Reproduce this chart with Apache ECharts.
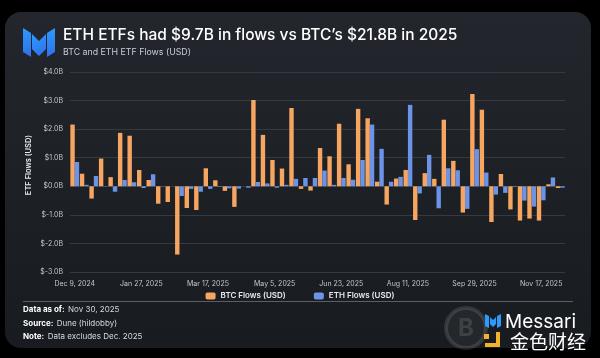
<!DOCTYPE html>
<html>
<head>
<meta charset="utf-8">
<script src="https://cdn.jsdelivr.net/npm/echarts@6/dist/echarts.min.js"></script>
<style>
  html, body { margin: 0; padding: 0; background: #000; }
  #wrap { position: relative; width: 600px; height: 358px; overflow: hidden; background: #000; }
  #card { position: absolute; left: 5px; top: 12px; width: 586px; height: 336px; border-radius: 16px;
          background: linear-gradient(180deg, #23272d 0%, #1c1f24 60%, #181b1f 100%); }
  #chart { position: absolute; left: 0; top: 0; width: 600px; height: 358px; }
</style>
</head>
<body>
<div id="wrap">
  <div id="card"></div>
  <div id="chart"></div>
</div>
<script>
// Weekly categories
const categories = [
  'Dec 9, 2024','Dec 16, 2024','Dec 23, 2024','Dec 30, 2024',
  'Jan 6, 2025','Jan 13, 2025','Jan 20, 2025','Jan 27, 2025',
  'Feb 3, 2025','Feb 10, 2025','Feb 17, 2025','Feb 24, 2025',
  'Mar 3, 2025','Mar 10, 2025','Mar 17, 2025','Mar 24, 2025','Mar 31, 2025',
  'Apr 7, 2025','Apr 14, 2025','Apr 21, 2025','Apr 28, 2025',
  'May 5, 2025','May 12, 2025','May 19, 2025','May 26, 2025',
  'Jun 2, 2025','Jun 9, 2025','Jun 16, 2025','Jun 23, 2025','Jun 30, 2025',
  'Jul 7, 2025','Jul 14, 2025','Jul 21, 2025','Jul 28, 2025',
  'Aug 4, 2025','Aug 11, 2025','Aug 18, 2025','Aug 25, 2025',
  'Sep 1, 2025','Sep 8, 2025','Sep 15, 2025','Sep 22, 2025','Sep 29, 2025',
  'Oct 6, 2025','Oct 13, 2025','Oct 20, 2025','Oct 27, 2025',
  'Nov 3, 2025','Nov 10, 2025','Nov 17, 2025','Nov 24, 2025','Dec 1, 2025'
];
// Flows in billions USD
const btcFlows = [
  2.16, 0.44, -0.43, 0.97, 0.32, 1.87, 1.77, 0.57, 0.22, -0.61,
  -0.55, -2.39, -0.76, -0.83, 0.63, 0.21, -0.16, -0.72, 0.00, 3.02,
  1.80, 0.92, 0.62, 2.74, -0.09, -0.15, 1.34, 1.05, 2.19, 0.77,
  2.71, 2.38, 0.16, -0.64, 0.27, 0.57, -1.18, 0.46, 0.26, 2.33,
  0.89, -0.92, 3.23, 2.68, -1.25, 0.43, -0.81, -1.20, -1.13, -1.20,
  0.07, -0.06
];
const ethFlows = [
  0.85, 0.05, 0.36, 0.01, -0.19, 0.22, 0.14, -0.06, 0.42, 0.01,
  0.00, -0.34, -0.09, -0.19, -0.09, -0.02, -0.07, -0.08, -0.05, 0.15,
  0.10, -0.05, 0.05, 0.26, 0.29, 0.29, 0.55, 0.05, 0.29, 0.23,
  0.92, 2.16, 1.31, 0.16, 0.33, 2.85, -0.25, 1.10, -0.77, 0.63,
  0.56, -0.79, 1.30, 0.48, -0.29, -0.23, -0.02, -0.50, -0.71, -0.49,
  0.31, -0.05
];
const seriesNames = ['BTC Flows (USD)', 'ETH Flows (USD)'];
const titleText = 'ETH ETFs had $9.7B in flows vs BTC\u2019s $21.8B in 2025';
const subtitleText = 'BTC and ETH ETF Flows (USD)';

const FONT = 'Inter, "Liberation Sans", sans-serif';
const ORANGE = '#F7A661';
const BLUE = '#6C93E6';

const chart = echarts.init(document.getElementById('chart'), null, { renderer: 'canvas' });

const logoGrad = new echarts.graphic.LinearGradient(0, 0, 1, 1, [
  { offset: 0, color: '#2C9BFF' }, { offset: 1, color: '#2F6FE8' }
]);

const option = {
  backgroundColor: 'transparent',
  animation: false,
  textStyle: { fontFamily: FONT },
  title: [
    { text: titleText, left: 58, top: 22, padding: 5, textStyle: { color: '#ffffff', fontSize: 15.5, fontWeight: 500, fontFamily: FONT } },
    { text: subtitleText, left: 58, top: 43, padding: 5, textStyle: { color: '#c9cdd3', fontSize: 8.8, fontWeight: 400, fontFamily: FONT } }
  ],
  legend: {
    data: seriesNames,
    left: 'center',
    top: 287,
    itemWidth: 10,
    itemHeight: 7,
    itemGap: 28,
    icon: 'roundRect',
    textStyle: { color: '#e8eaee', fontSize: 8, fontWeight: 600, fontFamily: FONT }
  },
  grid: { left: 70, right: 35, top: 72, bottom: 86 },
  xAxis: {
    type: 'category',
    data: categories,
    axisLine: { show: false },
    axisTick: { show: false },
    axisLabel: { interval: 6, color: '#c3c7cd', fontSize: 7, margin: 8, fontFamily: FONT },
    splitLine: { show: false }
  },
  yAxis: {
    type: 'value',
    min: -3, max: 4, interval: 1,
    axisLine: { show: false },
    axisTick: { show: false },
    axisLabel: { color: '#c3c7cd', fontSize: 7, margin: 7, fontFamily: FONT,
      formatter: v => '$' + v.toFixed(1) + 'B' },
    splitLine: { lineStyle: { color: '#353a41', width: 1 } }
  },
  series: [
    { name: seriesNames[0], type: 'bar', data: btcFlows, barGap: '0%', barWidth: 4.4,
      itemStyle: { color: ORANGE } },
    { name: seriesNames[1], type: 'bar', data: ethFlows, barGap: '0%', barWidth: 4.4,
      itemStyle: { color: BLUE } }
  ],
  graphic: [
    // Messari logo
    { type: 'polygon', shape: { points: [[23, 28], [31, 33], [31, 57], [23, 52]] }, style: { fill: logoGrad } },
    { type: 'polygon', shape: { points: [[32, 34], [39, 41], [46, 34], [46, 49], [39, 56], [32, 49]] }, style: { fill: logoGrad } },
    { type: 'polygon', shape: { points: [[47, 33], [55, 28], [55, 52], [47, 57]] }, style: { fill: logoGrad } },
    // Y axis name
    { type: 'text', x: 29, y: 165, rotation: Math.PI / 2,
      style: { text: 'ETF Flows (USD)', fill: '#e8eaee', fontSize: 7.5, fontWeight: 600, fontFamily: FONT,
        align: 'center', verticalAlign: 'middle' } },
    // separator
    { type: 'line', shape: { x1: 23, y1: 301.5, x2: 573, y2: 301.5 }, style: { stroke: '#5a5f66', lineWidth: 1 } },
    // footer
    { type: 'text', x: 23, y: 310, style: { rich: { b: { fontWeight: 700, fill: '#ffffff', fontSize: 8, fontFamily: FONT }, n: { fill: '#d5d8dc', fontSize: 8, fontFamily: FONT } },
        text: '{b|Data as of:} {n|Nov 30, 2025}', verticalAlign: 'middle' } },
    { type: 'text', x: 23, y: 323.5, style: { rich: { b: { fontWeight: 700, fill: '#ffffff', fontSize: 8, fontFamily: FONT }, n: { fill: '#d5d8dc', fontSize: 8, fontFamily: FONT } },
        text: '{b|Source:} {n|Dune (hildobby)}', verticalAlign: 'middle' } },
    { type: 'text', x: 23, y: 337, style: { rich: { b: { fontWeight: 700, fill: '#ffffff', fontSize: 8, fontFamily: FONT }, n: { fill: '#d5d8dc', fontSize: 8, fontFamily: FONT } },
        text: '{b|Note:} {n|Data excludes Dec. 2025}', verticalAlign: 'middle' } },
    // watermark
    { type: 'circle', shape: { cx: 466, cy: 328, r: 20 }, style: { fill: 'rgba(255,255,255,0.05)', stroke: 'rgba(255,255,255,0.12)', lineWidth: 4 } },
    { type: 'text', x: 466, y: 329, style: { text: 'B', fill: 'rgba(255,255,255,0.12)', fontSize: 24, fontWeight: 700, fontFamily: FONT, align: 'center', verticalAlign: 'middle' } },
    { type: 'polygon', shape: { points: [[485, 314], [489, 316], [489, 328], [485, 326]] }, style: { fill: '#2C9BFF' } },
    { type: 'polygon', shape: { points: [[490, 317], [493, 320], [496, 317], [496, 324], [493, 327], [490, 324]] }, style: { fill: '#2C9BFF' } },
    { type: 'polygon', shape: { points: [[497, 316], [501, 314], [501, 326], [497, 328]] }, style: { fill: '#2C9BFF' } },
    { type: 'text', x: 505, y: 322, style: { text: 'Messari', fill: '#ffffff', fontSize: 19, fontFamily: FONT, verticalAlign: 'middle' } },
    { type: 'polyline', shape: { points: [[498, 332], [498, 345], [485, 345]] }, style: { stroke: '#F0B429', lineWidth: 4, fill: null } },
    { type: 'rect', shape: { x: 484, y: 334, width: 5, height: 5 }, style: { fill: '#F0B429' } },
    { type: 'text', x: 510, y: 342, style: { text: '金色财经', fill: '#ffffff', fontSize: 19, fontFamily: '"Noto Sans CJK SC", sans-serif', verticalAlign: 'middle' } }
  ]
};
chart.setOption(option);
</script>
</body>
</html>
